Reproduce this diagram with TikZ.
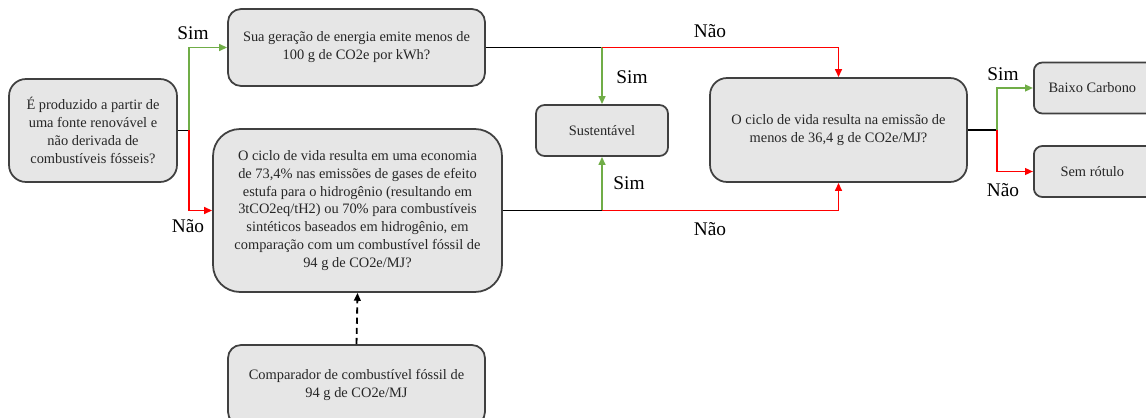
\documentclass[tikz,border=0pt]{standalone}
\usepackage{fontspec}
\setmainfont{Liberation Serif}
\usetikzlibrary{arrows.meta, positioning, calc}

\definecolor{boxfill}{HTML}{E6E6E6}
\definecolor{boxdraw}{HTML}{404040}
\definecolor{boxtext}{HTML}{262626}
\definecolor{simgreen}{HTML}{70AD47}
\definecolor{naored}{HTML}{FF0000}

\begin{document}
\begin{tikzpicture}[
    x=0.02cm, y=-0.02cm,
    >={Triangle[length=4.5pt, width=3.8pt]},
    font=\fontsize{8.2}{10.2}\selectfont,
    base/.style={draw=boxdraw, fill=boxfill, align=center, line width=1pt, inner sep=2pt, text=boxtext},
    bigq/.style={base, minimum width=5.14cm, minimum height=2.08cm, rounded corners=0.34cm},
    leaf/.style={base, minimum width=2.64cm, minimum height=1.02cm, rounded corners=0.17cm},
    lbl/.style={font=\fontsize{11}{13}\selectfont, inner sep=0pt},
    line/.style={line width=1.05pt, black},
    sim/.style={->, line width=1.05pt, simgreen},
    nao/.style={->, line width=1.05pt, naored}
  ]
    \clip (0,0) rectangle (1146,418);
    % decision boxes
    \node[base, minimum width=3.36cm, minimum height=2.06cm, rounded corners=0.34cm] (fonte) at (93,130.5)
    {É produzido a partir de\\uma fonte renovável e\\não derivada de\\combustíveis fósseis?};
    \node[base, minimum width=5.14cm, minimum height=1.54cm, rounded corners=0.26cm] (geracao) at (356.5,47.5)
    {Sua geração de energia emite menos de\\100 g de CO2e por kWh?};
    \node[base, minimum width=5.78cm, minimum height=3.26cm, rounded corners=0.54cm] (economia) at (357.5,210.5)
    {O ciclo de vida resulta em uma economia\\de 73,4\% nas emissões de gases de efeito\\estufa para o hidrogênio (resultando em\\3tCO2eq/tH2) ou 70\% para combustíveis\\sintéticos baseados em hidrogênio, em\\comparação com um combustível fóssil de\\94 g de CO2e/MJ?};
    \node[leaf] (sustentavel) at (602,130.5) {Sustentável};
    \node[bigq] (emissao) at (838.5,130)
    {O ciclo de vida resulta na emissão de\\menos de 36,4 g de CO2e/MJ?};
    \node[leaf, anchor=west] (baixo) at (1033,88) {Baixo Carbono\hspace*{0.3cm}};
    \node[leaf, anchor=west] (semrot) at (1033,171.5) {Sem rótulo\hspace*{0.3cm}};
    \node[base, minimum width=5.14cm, minimum height=1.6cm, rounded corners=0.26cm] (comparador) at (356.5,385)
    {Comparador de combustível fóssil de\\94 g de CO2e/MJ};
    % labels
    \node[lbl] (sim1) at (193,33) {Sim};
    \node[lbl] (nao1) at (188,226) {Não};
    \node[lbl] (nao2) at (710,31) {Não};
    \node[lbl] (sim2) at (632,77) {Sim};
    \node[lbl] (sim3) at (629,183) {Sim};
    \node[lbl] (nao3) at (710,229) {Não};
    \node[lbl] (sim4) at (1003,74) {Sim};
    \node[lbl] (nao4) at (1003,190) {Não};
    % connectors
    \coordinate (j1) at ($(fonte.east)+(11,0)$);
    \draw[line] (fonte.east) -- (j1);
    \draw[sim] (j1) |- (geracao.west);
    \draw[nao] (j1) |- (economia.west);
    \coordinate (j2) at (sustentavel.north |- geracao.east);
    \draw[line] (geracao.east) -- (j2);
    \draw[sim] (j2) -- (sustentavel.north);
    \draw[nao] (j2) -| (emissao.north);
    \coordinate (j3) at (sustentavel.south |- economia.east);
    \draw[line] (economia.east) -- (j3);
    \draw[sim] (j3) -- (sustentavel.south);
    \draw[nao] (j3) -| (emissao.south);
    \coordinate (j4) at ($(emissao.east)+(29,0)$);
    \draw[line] (emissao.east) -- (j4);
    \draw[sim] (j4) |- (baixo.west);
    \draw[nao] (j4) |- (semrot.west);
    \draw[line, ->, dash pattern=on 3.5pt off 2.3pt] (comparador.north) -- (economia.south);
  \end{tikzpicture}
\end{document}
